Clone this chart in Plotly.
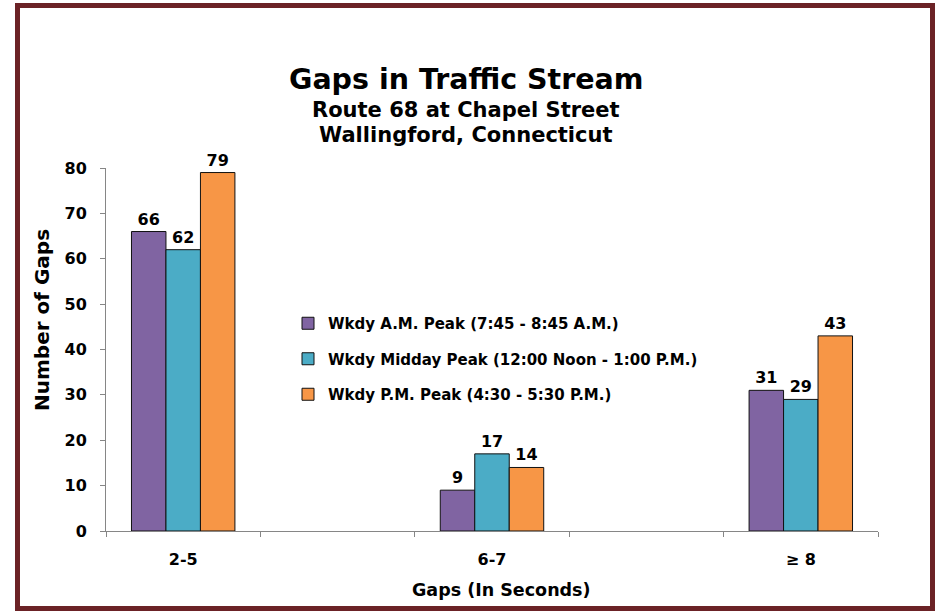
import plotly.graph_objects as go

categories = ["2-5", " ", "6-7", "  ", "≥ 8"]
am_peak = [66, None, 9, None, 31]
midday_peak = [62, None, 17, None, 29]
pm_peak = [79, None, 14, None, 43]
series_names = [
    "Wkdy A.M. Peak (7:45 - 8:45 A.M.)",
    "Wkdy Midday Peak (12:00 Noon - 1:00 P.M.)",
    "Wkdy P.M. Peak (4:30 - 5:30 P.M.)",
]
colors = ["#8064A2", "#4BACC6", "#F79646"]

W, H = 936, 613
L, R, T, B = 106, 878, 168, 531
FONT = "DejaVu Sans"


def px(x):
    return (x - L) / (R - L)


def py(y):
    return (B - y) / (B - T)


def bf(size):
    return dict(family=FONT, size=size, color="black", weight="bold")


fig = go.Figure()
for name, vals, col in zip(series_names, [am_peak, midday_peak, pm_peak], colors):
    fig.add_trace(go.Bar(
        x=categories, y=vals, name=name, legendgroup=name,
        marker=dict(color=col, line=dict(color="#111111", width=1)),
        text=[str(v) if v is not None else "" for v in vals],
        textposition="outside", cliponaxis=False,
        textfont=bf(16),
    ))

fig.update_layout(
    width=W, height=H,
    margin=dict(l=L, r=W - R, t=T, b=H - B),
    paper_bgcolor="white", plot_bgcolor="white",
    barmode="group", bargap=0.33, bargroupgap=0,
    font=dict(family=FONT, color="black"),
    showlegend=True,
    legend=dict(
        x=px(288), y=py(307), xanchor="left", yanchor="top",
        bgcolor="rgba(0,0,0,0)", traceorder="grouped", tracegroupgap=13,
        font=bf(15),
        itemwidth=30,
    ),
    xaxis=dict(
        type="category", categoryorder="array", categoryarray=categories,
        showline=True, linecolor="#868686", linewidth=1,
        ticks="outside", tickson="boundaries", ticklen=5, tickcolor="#868686",
        tickfont=bf(16),
        ticklabelstandoff=14, showgrid=False, zeroline=False,
    ),
    yaxis=dict(
        range=[0, 80], dtick=10, showline=True, linecolor="#868686", linewidth=1,
        ticks="outside", ticklen=5, tickcolor="#868686",
        tickfont=bf(16),
        ticklabelstandoff=10, showgrid=False, zeroline=False,
    ),
    annotations=[
        dict(text="Gaps in Traffic Stream", x=px(466), y=py(79), xref="paper", yref="paper",
             showarrow=False, font=bf(28.5), xanchor="center", yanchor="middle"),
        dict(text="Route 68 at Chapel Street", x=px(466), y=py(110), xref="paper", yref="paper",
             showarrow=False, font=bf(21), xanchor="center", yanchor="middle"),
        dict(text="Wallingford, Connecticut", x=px(466), y=py(135), xref="paper", yref="paper",
             showarrow=False, font=bf(21), xanchor="center", yanchor="middle"),
        dict(text="Number of Gaps", x=px(42), y=py(320), xref="paper", yref="paper", textangle=-90,
             showarrow=False, font=bf(20), xanchor="center", yanchor="middle"),
        dict(text="Gaps (In Seconds)", x=px(501), y=py(590), xref="paper", yref="paper",
             showarrow=False, font=bf(17.5), xanchor="center", yanchor="middle"),
    ],
    shapes=[
        dict(type="rect", xref="paper", yref="paper",
             x0=px(17.5), x1=px(932.5), y0=py(608.5), y1=py(5.5),
             line=dict(color="#6B2226", width=5), fillcolor="rgba(0,0,0,0)", layer="above"),
    ],
)

fig.write_html("out.html")
